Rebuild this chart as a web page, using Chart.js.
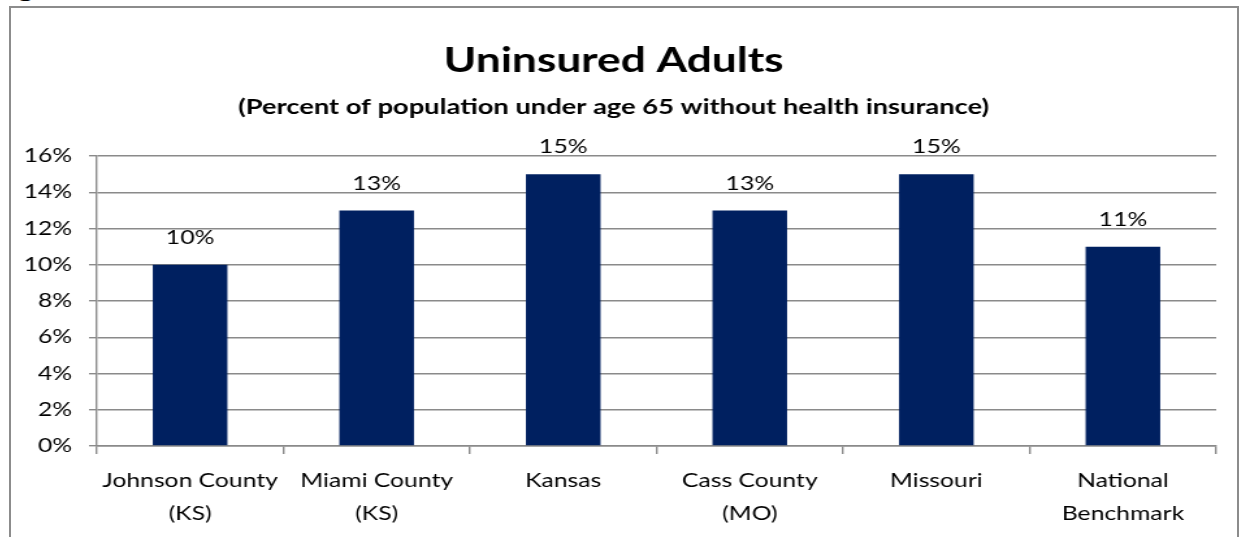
<!DOCTYPE html>
<html>
<head>
<meta charset="utf-8">
<script src="https://cdn.jsdelivr.net/npm/chart.js@4"></script>
<style>
  body { margin: 0; background: #fff; overflow: hidden; }
  #caption { position: absolute; left: -8px; top: -27px; font: bold 24px Lato, sans-serif; color: #000; white-space: nowrap; transform: scaleX(1.3); transform-origin: 0 0; }
  #frame { position: absolute; left: 9px; top: 6px; width: 1230px; height: 540px; border: 2px solid #8c8c8c; box-sizing: border-box; background: #fff; }
  #chart { position: absolute; left: 0; top: 0; }
</style>
</head>
<body>
<div id="caption">Figure 30: Uninsured Adults</div>
<div id="frame"><canvas id="chart" width="943" height="536" style="width:1226px;height:536px"></canvas></div>
<script>
const categories = [
    ['Johnson County', '(KS)'],
    ['Miami County', '(KS)'],
    'Kansas',
    ['Cass County', '(MO)'],
    'Missouri',
    ['National', 'Benchmark']
];
const uninsured = [10, 13, 15, 13, 15, 11];
const yTicks = [0, 2, 4, 6, 8, 10, 12, 14, 16];

// the original picture is stretched sideways, so the canvas is drawn
// narrower and widened by css (1226 / 943 ~ 1.3)
const fontFamily = 'Lato, "Open Sans", sans-serif';
const gridGray = '#8a8a8a';

// draws the value above each bar
const barLabels = {
    id: 'barLabels',
    afterDatasetsDraw(chart) {
        const ctx = chart.ctx;
        const meta = chart.getDatasetMeta(0);
        ctx.save();
        ctx.font = '19px ' + fontFamily;
        ctx.fillStyle = '#000';
        ctx.textAlign = 'center';
        ctx.textBaseline = 'middle';
        meta.data.forEach((bar, i) => {
            ctx.fillText(uninsured[i] + '%', bar.x, bar.y - 27);
        });
        ctx.restore();
    }
};

const ctx = document.getElementById('chart').getContext('2d');
const chart = new Chart(ctx, {
    type: 'bar',
    data: {
        labels: categories,
        datasets: [{
            data: uninsured,
            backgroundColor: '#002060',
            categoryPercentage: 1,
            barPercentage: 0.4
        }]
    },
    options: {
        responsive: false,
        animation: false,
        layout: { padding: { left: 0, right: 16, top: 0, bottom: 0 } },
        plugins: {
            legend: { display: false },
            tooltip: { enabled: false },
            title: {
                display: true,
                text: 'Uninsured Adults',
                color: '#000',
                font: { family: fontFamily, size: 34, weight: 'bold', lineHeight: 1.2 },
                padding: { top: 33, bottom: 13 }
            },
            subtitle: {
                display: true,
                text: '(Percent of population under age 65 without health insurance)',
                color: '#000',
                font: { family: fontFamily, size: 21, weight: 'bold', lineHeight: 1.2 },
                padding: { top: 0, bottom: 36 }
            }
        },
        scales: {
            y: {
                min: 0,
                max: 16,
                afterBuildTicks(scale) {
                    scale.ticks = yTicks.map(v => ({ value: v }));
                },
                afterFit(scale) { scale.width = 66; },
                ticks: {
                    color: '#000',
                    padding: 13,
                    font: { family: fontFamily, size: 19 },
                    callback: v => v + '%'
                },
                grid: { color: gridGray, lineWidth: 1.4, tickLength: 6 },
                border: { color: gridGray, width: 1.4 }
            },
            x: {
                afterFit(scale) { scale.height = 98; },
                ticks: {
                    color: '#000',
                    padding: 10,
                    maxRotation: 0,
                    autoSkip: false,
                    font: { family: fontFamily, size: 19, lineHeight: 1.737 }
                },
                grid: { drawOnChartArea: false, color: gridGray, lineWidth: 1.4, tickLength: 8 },
                border: { color: gridGray, width: 1.4 }
            }
        }
    },
    plugins: [barLabels]
});
</script>
</body>
</html>
